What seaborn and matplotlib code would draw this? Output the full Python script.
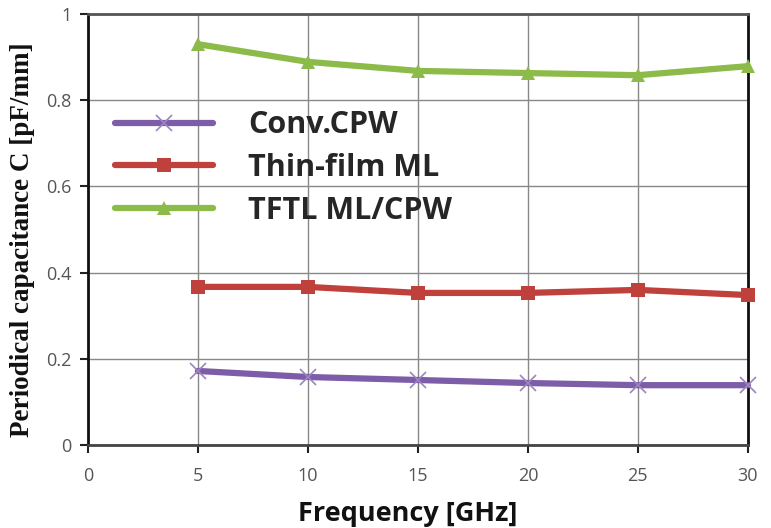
import matplotlib
matplotlib.use("Agg")
import matplotlib.pyplot as plt
import seaborn as sns
import pandas as pd

freq = [5, 10, 15, 20, 25, 30]
conv_cpw = [0.172, 0.158, 0.151, 0.144, 0.139, 0.139]
thin_film_ml = [0.367, 0.367, 0.353, 0.353, 0.360, 0.348]
tftl = [0.930, 0.889, 0.868, 0.863, 0.858, 0.879]
series_names = ["Conv.CPW", "Thin-film ML", "TFTL ML/CPW"]
x_ticks = [0, 5, 10, 15, 20, 25, 30]
y_ticks = [0, 0.2, 0.4, 0.6, 0.8, 1]

df = pd.DataFrame({
    "freq": freq * 3,
    "C": conv_cpw + thin_film_ml + tftl,
    "series": [series_names[0]] * 6 + [series_names[1]] * 6 + [series_names[2]] * 6,
})

sns.set_theme(style="white")
plt.rcParams['font.family'] = ['DejaVu Sans']

fig = plt.figure(figsize=(7.71, 5.28), dpi=100)
ax = fig.add_axes([0.114, 0.157, 0.856, 0.8165])

colors = {"Conv.CPW": "#7D5DA8", "Thin-film ML": "#C0403C", "TFTL ML/CPW": "#8CBB4A"}
markers = {"Conv.CPW": "x", "Thin-film ML": "s", "TFTL ML/CPW": "^"}
msizes = {"Conv.CPW": 11, "Thin-film ML": 10, "TFTL ML/CPW": 10}

for name in series_names:
    sub = df[df.series == name]
    sns.lineplot(data=sub, x="freq", y="C", ax=ax, color=colors[name],
                 marker=markers[name], markersize=msizes[name], linewidth=4.5,
                 markeredgewidth=1.2 if name == "Conv.CPW" else 0,
                 markeredgecolor="#9A85C0" if name == "Conv.CPW" else colors[name],
                 label=name, clip_on=False, zorder=3)

ax.set_xlim(0, 30)
ax.set_ylim(0, 1)
ax.set_xticks(x_ticks)
ax.set_yticks(y_ticks)
ax.set_xticklabels([str(t) for t in x_ticks], color="#555555", fontsize=13, family="Open Sans")
ax.set_yticklabels(["0", "0.2", "0.4", "0.6", "0.8", "1"], color="#555555", fontsize=13, family="Open Sans")
ax.grid(True, color="#888888", linewidth=1)
ax.set_axisbelow(True)
ax.tick_params(axis="both", direction="out", length=6, width=1.5, color="#222222",
               bottom=True, left=True)
ax.tick_params(axis="x", pad=10)
ax.tick_params(axis="y", pad=6)
for s in ["left", "bottom", "right", "top"]:
    ax.spines[s].set_visible(True)
    ax.spines[s].set_linewidth(2)
ax.spines["left"].set_color("#111111")
ax.spines["bottom"].set_color("#444444")
ax.spines["right"].set_color("#111111")
ax.spines["top"].set_color("#555555")

ax.set_xlabel("Frequency [GHz]", fontsize=19.5, fontweight="bold", family="Open Sans", color="#111111")
ax.set_ylabel("Periodical capacitance C [pF/mm]", fontsize=19.5, fontweight="bold",
              family="Liberation Serif", color="#111111")
ax.xaxis.set_label_coords(0.485, -0.13)
ax.yaxis.set_label_coords(-0.08, 0.476)

leg = ax.legend(loc="upper left", bbox_to_anchor=(0.0, 0.84), frameon=False,
                prop={"family": "Open Sans", "weight": "bold", "size": 22},
                handlelength=3.2, handletextpad=1.15, labelspacing=0.41)

fig.savefig("out.png", dpi=100, facecolor="white")
